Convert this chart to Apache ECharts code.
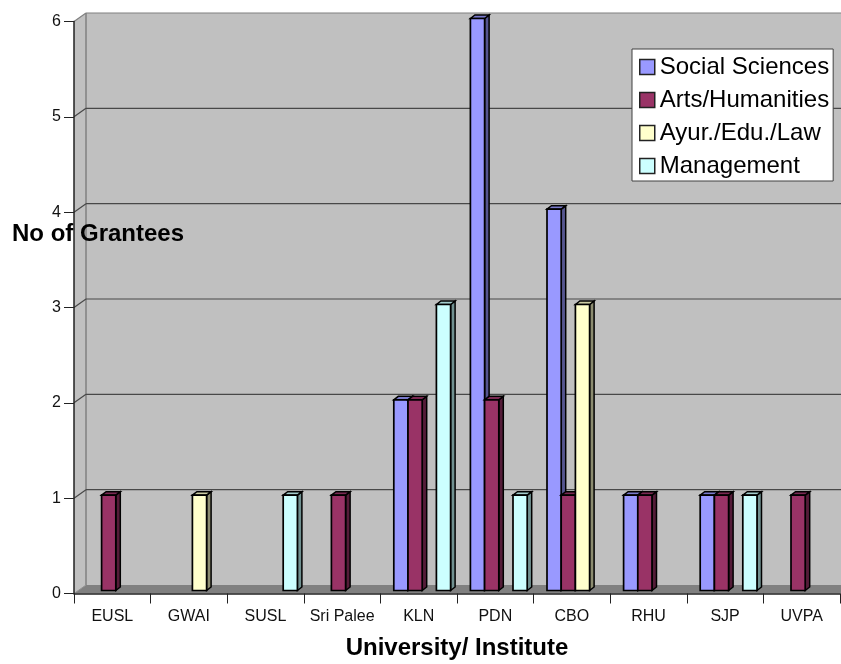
<!DOCTYPE html>
<html><head><meta charset="utf-8">
<style>html,body{margin:0;padding:0;background:#fff}#c{width:841px;height:664px}</style>
<script src="https://cdn.jsdelivr.net/npm/echarts@6/dist/echarts.min.js"></script>
</head><body><div id="c"></div>
<script>
const categories = ['EUSL','GWAI','SUSL','Sri Palee','KLN','PDN','CBO','RHU','SJP','UVPA'];
const socialSciences = [0,0,0,0,2,6,4,1,1,0];
const artsHumanities = [1,0,0,1,2,2,1,1,1,1];
const ayurEduLaw     = [0,1,0,0,0,0,3,0,0,0];
const management     = [0,0,1,0,3,1,0,0,1,0];
const yTicks = [1,2,3,4,5,6];
const seriesNames = ['Social Sciences','Arts/Humanities','Ayur./Edu./Law','Management'];
const seriesValues = [socialSciences, artsHumanities, ayurEduLaw, management];
const front = ['#9999FF','#993366','#FFFFCC','#CCFFFF'];
const side  = ['#55558F','#541C38','#8C8C70','#709090'];
const topC  = ['#7A7ACC','#7A2952','#CCCCA3','#A3CCCC'];

const DX = 12, DY = -8.5, BAR_W = 14.2, BAR_OFF = 13.4, BAR_DX = 4.5, BAR_DY = -3.5, LIFT = 3;

function poly(points, fill, stroke, w){
  return {type:'polygon', shape:{points}, style:{fill, stroke:stroke||null, lineWidth:w||0, lineJoin:'miter'}};
}
function line(x1,y1,x2,y2,stroke,w){
  return {type:'line', shape:{x1,y1,x2,y2}, style:{stroke, lineWidth:w, fill:null}};
}
function wallItem(params, api){
  const band = api.size([1,0])[0];
  const left = api.coord([0,0])[0]-band/2;
  const right = api.coord([categories.length-1,0])[0]+band/2;
  const y0 = api.coord([0,0])[1], yT = api.coord([0,6])[1];
  return {type:'group', children:[
    poly([[left+DX,y0+DY],[right+DX+20,y0+DY],[right+DX+20,yT+DY],[left+DX,yT+DY]],'#C0C0C0'),
    poly([[left,y0],[left+DX,y0+DY],[left+DX,yT+DY],[left,yT]],'#C0C0C0'),
    poly([[left,y0],[left+DX,y0+DY],[right+DX+20,y0+DY],[right,y0]],'#808080'),
    line(left+DX,y0+DY,left+DX,yT+DY,'#808080',1.5),
    line(left,y0,left+DX,y0+DY,'#909090',1)
  ]};
}
function gridItem(params, api){
  const v = api.value(0);
  const band = api.size([1,0])[0];
  const left = api.coord([0,0])[0]-band/2;
  const right = api.coord([categories.length-1,0])[0]+band/2;
  const y = api.coord([0,v])[1];
  const c = v===6 ? '#808080' : '#484848';
  return {type:'group', children:[
    line(left,y,left+DX,y+DY,c,1.2),
    line(left+DX,y+DY,right+DX+20,y+DY,c,1.2)
  ]};
}
function barItem(si){
  return function(params, api){
    const v = api.value(1);
    if(!v) return null;
    const c = api.coord([api.value(0),v]);
    const b = api.coord([api.value(0),0]);
    const band = api.size([1,0])[0];
    const x0 = c[0]-band/2+BAR_OFF+BAR_W*si, x1 = x0+BAR_W;
    const yt = c[1]-LIFT, yb = b[1]-LIFT;
    return {type:'group', children:[
      poly([[x1,yb],[x1+BAR_DX,yb+BAR_DY],[x1+BAR_DX,yt+BAR_DY],[x1,yt]],side[si],'#000',1.5),
      poly([[x0,yt],[x0+BAR_DX,yt+BAR_DY],[x1+BAR_DX,yt+BAR_DY],[x1,yt]],topC[si],'#000',1.5),
      poly([[x0,yb],[x1,yb],[x1,yt],[x0,yt]],front[si],'#000',1.7)
    ]};
  };
}
const chart = echarts.init(document.getElementById('c'),null,{renderer:'canvas'});
const FONT = '"Liberation Sans", Arial, sans-serif';
chart.setOption({
  animation:false,
  backgroundColor:'#fff',
  title:{text:'No of Grantees',left:12,top:222,padding:0,textStyle:{fontFamily:FONT,fontSize:24,fontWeight:'bold',color:'#000'},z:20},
  grid:{left:74,right:1,top:21.5,bottom:70.5,containLabel:false,outerBoundsMode:'none'},
  xAxis:{type:'category',data:categories,boundaryGap:true,
    axisLine:{lineStyle:{color:'#222',width:1.5}},
    axisTick:{show:true,length:10,alignWithLabel:false,lineStyle:{color:'#222',width:1}},
    axisLabel:{fontFamily:FONT,fontSize:16,color:'#111',margin:15,interval:0},
    name:'University/ Institute',nameLocation:'middle',nameGap:43,
    nameTextStyle:{fontFamily:FONT,fontSize:24,fontWeight:'bold',color:'#000'},z:10},
  yAxis:{type:'value',min:0,max:6,interval:1,
    axisLine:{show:true,lineStyle:{color:'#222',width:1.5}},
    axisTick:{show:true,length:10,lineStyle:{color:'#222',width:1}},
    axisLabel:{fontFamily:FONT,fontSize:16,color:'#111',margin:13},
    splitLine:{show:false},z:10},
  legend:{data:seriesNames,orient:'vertical',left:632,top:49,
    padding:[6,4,3,7],itemGap:9,itemWidth:15,itemHeight:15,icon:'rect',
    backgroundColor:'#fff',borderColor:'#404040',borderWidth:1,borderRadius:0,
    selectedMode:false,
    textStyle:{fontFamily:FONT,fontSize:24,color:'#000',padding:[0,0,0,0],lineHeight:16},
    itemStyle:{borderColor:'#222',borderWidth:1.5},z:30},
  series:[
    {type:'custom',name:'wall',coordinateSystem:'cartesian2d',renderItem:wallItem,data:[[0,0]],clip:false,silent:true,z:1},
    {type:'custom',name:'grid',coordinateSystem:'cartesian2d',renderItem:gridItem,data:yTicks.map(v=>[v]),encode:{y:0},clip:false,silent:true,z:2}
  ].concat(seriesNames.map((n,si)=>({
    type:'custom',name:n,coordinateSystem:'cartesian2d',renderItem:barItem(si),clip:false,
    itemStyle:{color:front[si]},encode:{x:0,y:1},
    data:seriesValues[si].map((v,i)=>[i,v]),z:5+si
  })))
});
</script></body></html>
